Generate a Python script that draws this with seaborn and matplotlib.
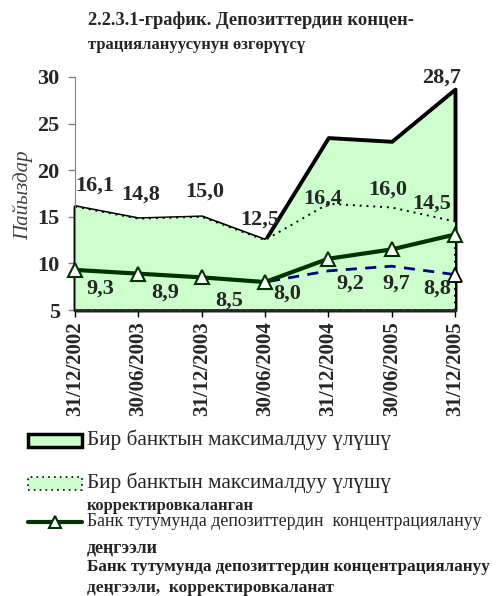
import numpy as np
import pandas as pd
import matplotlib
matplotlib.use("Agg")
import matplotlib.pyplot as plt
import seaborn as sns
from matplotlib.patches import Rectangle
from matplotlib.lines import Line2D

dates = ["31/12/2002", "30/06/2003", "31/12/2003", "30/06/2004",
         "31/12/2004", "30/06/2005", "31/12/2005"]
max_share = [16.1, 14.8, 15.0, 12.5, 23.5, 23.1, 28.7]
max_share_corr = [16.1, 14.8, 15.0, 12.5, 16.4, 16.0, 14.5]
conc_level = [9.3, 8.9, 8.5, 8.0, 10.5, 11.5, 13.1]
conc_level_corr = [9.3, 8.9, 8.5, 8.0, 9.2, 9.7, 8.8]

upper_labels = ["16,1", "14,8", "15,0", "12,5", "16,4", "16,0", "14,5"]
upper_label_values = [16.1, 14.8, 15.0, 12.5, 16.4, 16.0, 14.5]
top_label = "28,7"
lower_labels = ["9,3", "8,9", "8,5", "8,0", "9,2", "9,7", "8,8"]

yticks = [5, 10, 15, 20, 25, 30]

sns.set_style("ticks")
plt.rcParams["font.family"] = ["Liberation Serif", "DejaVu Serif"]

fig = plt.figure(figsize=(4.96, 5.96), dpi=100)
ax = fig.add_axes([75 / 496, 1 - 310 / 596, 380 / 496, 233 / 596])

x = np.arange(len(dates))
green_fill = "#CCFFCC"
dark_green = "#003300"
navy = "#000080"

ax.fill_between(x, 5, max_share, facecolor=green_fill, edgecolor="black",
                linewidth=2.8, zorder=1, clip_on=False)
ax.fill_between(x, 5, max_share_corr, facecolor=green_fill, edgecolor="black",
                linewidth=1.4, linestyle=(0, (1, 2.5)), zorder=2, clip_on=False)

df = pd.DataFrame({"x": x, "conc": conc_level, "conc_corr": conc_level_corr})
sns.lineplot(data=df, x="x", y="conc_corr", ax=ax, color=navy, linewidth=2,
             linestyle=(0, (4, 3)), marker="^", markevery=[6], markersize=10,
             markerfacecolor="white", markeredgecolor="black",
             markeredgewidth=1.3, zorder=3, clip_on=False)
sns.lineplot(data=df, x="x", y="conc", ax=ax, color=dark_green, linewidth=3,
             marker="^", markersize=10, markerfacecolor="white",
             markeredgecolor=dark_green, markeredgewidth=1.5, zorder=4,
             clip_on=False)

ax.set_xlim(0, 6)
ax.set_ylim(5, 30)
ax.set_yticks(yticks)
ax.set_yticklabels([str(t) for t in yticks], fontsize=16, fontweight="bold")
ax.set_xticks(x)
ax.set_xticklabels(dates, rotation=90, fontsize=15, fontweight="bold")
ax.set_xlabel("")
ax.set_ylabel("Пайыздар", fontsize=15, fontstyle="italic", color="#404040")
ax.yaxis.set_label_coords(-0.11, 0.494)
ax.tick_params(axis="y", length=5, width=1, color="#808080", pad=6)
ax.tick_params(axis="x", length=5, width=1, color="black", pad=3)
sns.despine(ax=ax)
ax.spines["left"].set_color("#808080")
ax.spines["bottom"].set_linewidth(2)

up_off = [(20, 21), (2, 24), (3, 25), (-5, 21), (-6, 5), (-4, 18), (-23, 18)]
low_off = [(25, -19), (27, -19), (28, -23), (22, -12), (22, -13), (5, -17), (-18, -14)]
for i in range(len(dates)):
    ax.annotate(upper_labels[i], (x[i], upper_label_values[i]),
                textcoords="offset pixels", xytext=up_off[i], ha="center",
                va="center", fontsize=16, fontweight="bold", zorder=6,
                annotation_clip=False)
    ax.annotate(lower_labels[i], (x[i], conc_level_corr[i]),
                textcoords="offset pixels", xytext=low_off[i], ha="center",
                va="center", fontsize=16, fontweight="bold", zorder=6,
                annotation_clip=False)
ax.annotate(top_label, (x[6], max_share[6]), textcoords="offset pixels",
            xytext=(-13, 12), ha="center", va="center", fontsize=16,
            fontweight="bold", annotation_clip=False)

def fy(py):
    return 1 - py / 596

def fx(px):
    return px / 496

fig.text(fx(88), fy(20), "2.2.3.1-график. Депозиттердин концен-",
         fontsize=13.3, fontweight="bold", va="center", ha="left")
fig.text(fx(88), fy(45), "трациялануусунун өзгөрүүсү",
         fontsize=12, fontweight="bold", va="center", ha="left")

# legend
fig.add_artist(Rectangle((fx(28), fy(447)), fx(54), 13 / 596,
                         facecolor=green_fill, edgecolor="black",
                         linewidth=2.5, transform=fig.transFigure))
fig.add_artist(Rectangle((fx(28), fy(490)), fx(54), 13 / 596,
                         facecolor=green_fill, edgecolor="black",
                         linewidth=1.2, linestyle=(0, (1, 2.5)),
                         transform=fig.transFigure))
fig.add_artist(Line2D([fx(28), fx(82)], [fy(522), fy(522)], color=dark_green,
                      linewidth=3, transform=fig.transFigure))
fig.add_artist(Line2D([fx(55)], [fy(522)], marker="^", markersize=9,
                      markerfacecolor="white", markeredgecolor=dark_green,
                      markeredgewidth=1.5, linestyle="none",
                      transform=fig.transFigure))

fig.text(fx(87), fy(440), "Бир банктын максималдуу үлүшү", fontsize=15.3,
         va="center", ha="left")
fig.text(fx(87), fy(483), "Бир банктын максималдуу үлүшү", fontsize=15.3,
         va="center", ha="left")
fig.text(fx(87), fy(506), "корректировкаланган", fontsize=12,
         fontweight="bold", va="center", ha="left")
fig.text(fx(87), fy(522), "Банк тутумунда депозиттердин  концентрациялануу",
         fontsize=12.8, va="center", ha="left")
fig.text(fx(87), fy(548), "деңгээли", fontsize=13, fontweight="bold",
         va="center", ha="left")
fig.text(fx(87), fy(567), "Банк тутумунда депозиттердин концентрациялануу",
         fontsize=12.3, fontweight="bold", va="center", ha="left",
         color="#202020")
fig.text(fx(87), fy(588), "деңгээли,  корректировкаланат", fontsize=12.5,
         fontweight="bold", va="center", ha="left")

fig.savefig("out.png", dpi=100)
